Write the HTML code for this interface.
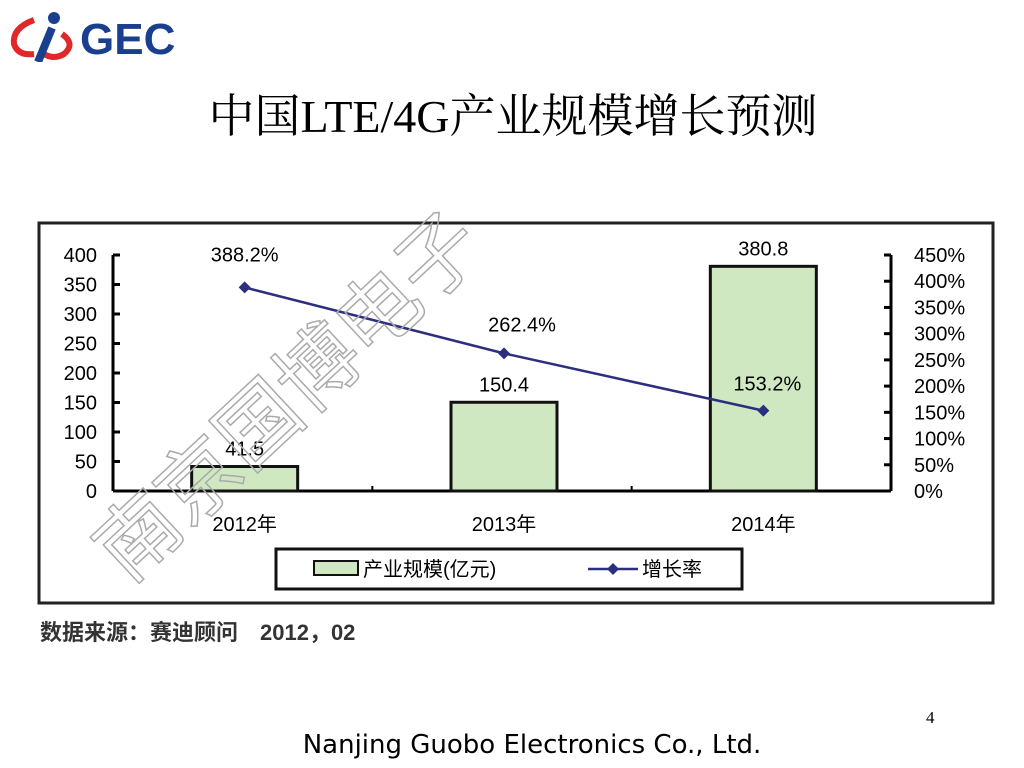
<!DOCTYPE html>
<html><head><meta charset="utf-8"><style>
body{margin:0;width:1024px;height:768px;background:#fff;position:relative;overflow:hidden;font-family:"Liberation Sans","Noto Sans CJK SC",sans-serif}
.abs{position:absolute}
</style></head><body>
<div class="abs" style="left:4px;top:6px;width:170px;height:56px">
<svg width="170" height="56"><path d="M30 14 Q8 22 10 38 Q14 50 30 48" stroke="#e02828" stroke-width="6" fill="none"/>
<path d="M58 28 Q72 38 60 48 Q50 54 40 48" stroke="#e02828" stroke-width="6" fill="none"/>
<circle cx="50" cy="12" r="6" fill="#1b3f8f"/><path d="M48 22 L34 56" stroke="#1b3f8f" stroke-width="8"/>
<text x="76" y="48" font-family="Liberation Sans" font-weight="bold" font-size="44" fill="#1b3f8f">GEC</text></svg></div>
<div class="abs" style="left:0;width:1026px;top:80px;text-align:center;font-family:'Liberation Serif','Noto Serif CJK SC',serif;font-size:46px">中国LTE/4G产业规模增长预测</div>
<svg class="abs" style="left:0;top:0" width="1024" height="768">
<rect x="39" y="223" width="954" height="380" fill="none" stroke="#222" stroke-width="3"/>
<g id="g"></g>
<text x="0" y="0" font-size="82" fill="none" stroke="#aaa" stroke-width="1.5" transform="translate(128,585) rotate(-43)" font-family="Noto Sans CJK SC">南京国博电子</text>
</svg>
<div class="abs" style="left:40px;top:615px;font-size:22px;color:#333;font-weight:bold">数据来源：赛迪顾问　2012，02</div>
<div class="abs" style="left:926px;top:708px;font-family:'Liberation Serif',serif;font-size:17px">4</div>
<div class="abs" style="left:0;width:1064px;text-align:center;top:730px;font-size:26px;font-family:'DejaVu Sans',sans-serif">Nanjing Guobo Electronics Co., Ltd.</div>
<script>
const categories=["2012年","2013年","2014年"];
const scaleValues=[41.5,150.4,380.8];
const growthValues=[388.2,262.4,153.2];
const leftTicks=[0,50,100,150,200,250,300,350,400];
const rightTicks=[0,50,100,150,200,250,300,350,400,450];
const NS="http://www.w3.org/2000/svg",g=document.getElementById('g');
const X0=113,X1=891,Y0=491,YT=255;
const xc=i=>X0+(X1-X0)*(i+0.5)/categories.length+2;
const yl=v=>Y0-(Y0-YT)*v/400, yr=v=>Y0-(Y0-YT)*v/450;
function el(t,a,txt){const e=document.createElementNS(NS,t);for(const k in a)e.setAttribute(k,a[k]);if(txt!=null)e.textContent=txt;g.appendChild(e);return e;}
let e;
e=el('line',{x1:X0,y1:YT,x2:X0,y2:Y0,stroke:'#000','stroke-width':3});
e=el('line',{x1:X1,y1:YT,x2:X1,y2:Y0,stroke:'#000','stroke-width':3});
e=el('line',{x1:X0,y1:Y0,x2:X1,y2:Y0,stroke:'#000','stroke-width':3});
leftTicks.forEach(v=>{el('line',{x1:X0,y1:yl(v),x2:X0+7,y2:yl(v),stroke:'#000','stroke-width':3});
e=el('text',{x:97,y:yl(v)+7,'text-anchor':'end','font-size':20},v);});
rightTicks.forEach(v=>{el('line',{x1:X1-7,y1:yr(v),x2:X1,y2:yr(v),stroke:'#000','stroke-width':3});
e=el('text',{x:914,y:yr(v)+7,'font-size':20},v+'%');});
for(let i=1;i<categories.length;i++)el('line',{x1:X0+(X1-X0)*i/3,y1:Y0,x2:X0+(X1-X0)*i/3,y2:Y0-5,stroke:'#000','stroke-width':2});
categories.forEach((c,i)=>{
e=el('rect',{x:xc(i)-53,y:yl(scaleValues[i]),width:106,height:Y0-yl(scaleValues[i]),fill:'#cfe8c2',stroke:'#111','stroke-width':3});
e=el('text',{x:xc(i),y:yl(scaleValues[i])-11,'text-anchor':'middle','font-size':20},scaleValues[i]);
e=el('text',{x:xc(i),y:531,'text-anchor':'middle','font-size':20},c);
});
e=el('polyline',{points:growthValues.map((v,i)=>xc(i)+','+yr(v)).join(' '),fill:'none',stroke:'#2b2f7e','stroke-width':2.5});
const lblOff=[[0,-26],[18,-22],[4,-20]];
growthValues.forEach((v,i)=>{const x=xc(i),y=yr(v);
e=el('path',{d:`M${x} ${y-6}L${x+6} ${y}L${x} ${y+6}L${x-6} ${y}Z`,fill:'#2b2f7e'});
e=el('text',{x:x+lblOff[i][0],y:y+lblOff[i][1],'text-anchor':'middle','font-size':20},v.toFixed(1)+'%');});
e=el('rect',{x:276,y:549,width:466,height:40,fill:'#fff',stroke:'#111','stroke-width':3});
el('rect',{x:314,y:561,width:44,height:14,fill:'#cfe8c2',stroke:'#111','stroke-width':2});
e=el('text',{x:363,y:576,'font-size':20},'产业规模(亿元)');
el('line',{x1:588,y1:569,x2:638,y2:569,stroke:'#2b2f7e','stroke-width':2.5});
el('path',{d:'M613 563L619 569L613 575L607 569Z',fill:'#2b2f7e'});
e=el('text',{x:642,y:576,'font-size':20},'增长率');
</script>
</body></html>
